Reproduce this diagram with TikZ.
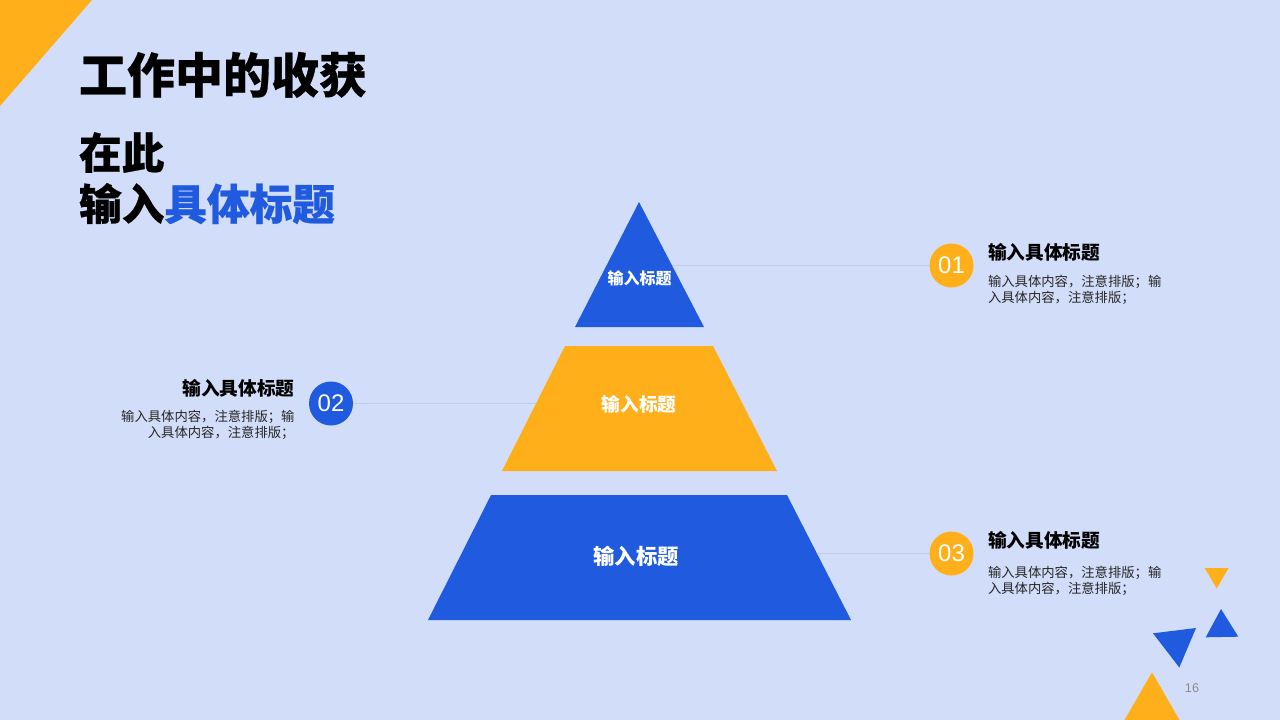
\documentclass[tikz,border=0pt]{standalone}
\usepackage{fontspec}
\newfontfamily\cjk{Noto Sans CJK SC}
\newfontfamily\cjkheavy[BoldFeatures={FakeBold=0.6}]{Noto Sans CJK SC}
\newfontfamily\latinf{Liberation Sans}
\definecolor{bgc}{HTML}{D2DEF9}
\definecolor{bluec}{HTML}{1F5ADF}
\definecolor{orangec}{HTML}{FFAF19}
\definecolor{linec}{HTML}{BECBE9}
\definecolor{bodyc}{HTML}{262626}
\definecolor{pagec}{HTML}{8C8C8C}
\tikzset{
  x=0.75pt,y=-0.75pt,
  every node/.style={inner sep=0pt,outer sep=0pt},
  bluefill/.style={fill=bluec,draw=none},
  orangefill/.style={fill=orangec,draw=none},
  link/.style={draw=linec,line width=0.75pt},
  badge/.style={circle,minimum size=33pt,text=white,font=\latinf\fontsize{18}{18}\selectfont},
  headt/.style={font=\cjk\bfseries\fontsize{14}{16}\selectfont,text=black},
  bodyt/.style={font=\cjk\fontsize{10}{12}\selectfont,text=bodyc},
  lab/.style={text=white,anchor=base}
}
\newcommand{\badgetext}[1]{\raisebox{-0.75pt}{#1}}
\begin{document}
\begin{tikzpicture}
\useasboundingbox (0,0) rectangle (1280,720);
\fill[bgc] (0,0) rectangle (1280,720);
% corner and decorative triangles
\fill[orangefill] (0,0) -- (92,0) -- (0,106) -- cycle;
\fill[orangefill] (1204.7,568) -- (1228.5,568) -- (1216.7,588.5) -- cycle;
\fill[bluefill] (1221,609) -- (1205.7,637.3) -- (1238.3,636.7) -- cycle;
\fill[bluefill] (1153,633.3) -- (1196,628) -- (1179.3,667.5) -- cycle;
\fill[orangefill] (1152,672.3) -- (1124.5,720) -- (1179.5,720) -- cycle;
% connector free ends
\coordinate (topend) at (670,265.5);
\coordinate (midend) at (537,403.5);
\coordinate (lowend) at (818,553.5);
% badges
\node[badge,fill=orangec] (b1) at (951.5,265.5) {\badgetext{01}};
\node[badge,fill=bluec] (b2) at (331,403.5) {\badgetext{02}};
\node[badge,fill=orangec] (b3) at (951.5,553.5) {\badgetext{03}};
\draw[link] (topend) -- (b1);
\draw[link] (b2) -- (midend);
\draw[link] (lowend) -- (b3);
% pyramid
\fill[bluefill] (639,202) -- (704,327) -- (575,327) -- cycle;
\fill[orangefill] (565,346) -- (713,346) -- (777,471) -- (502,471) -- cycle;
\fill[bluefill] (491,495) -- (787,495) -- (851,620) -- (428,620) -- cycle;
\node[lab,font=\cjk\bfseries\fontsize{12}{14}\selectfont] (p1) at (639.5,284) {输入标题};
\node[lab,font=\cjk\bfseries\fontsize{14}{16}\selectfont] (p2) at (639,411) {输入标题};
\node[lab,font=\cjk\bfseries\fontsize{16}{18}\selectfont] (p3) at (636,564) {输入标题};
% titles
\node[anchor=base west,font=\cjkheavy\bfseries\fontsize{36}{40}\selectfont,text=black] (title) at (79,93) {工作中的收获};
\node[anchor=base west,align=left,font=\cjkheavy\bfseries\fontsize{32}{38.4}\selectfont,text=black] (sub) at (79,220) {在此\\输入\textcolor{bluec}{具体标题}};
% side texts
\node[headt,anchor=base west] (h1) at (988,259) {输入具体标题};
\node[bodyt,anchor=base west,align=left] (t1) at (988,302) {输入具体内容，注意排版；输\\入具体内容，注意排版；};
\node[headt,anchor=base east] (h2) at (294.5,395) {输入具体标题};
\node[bodyt,anchor=base east,align=right] (t2) at (294.5,437) {输入具体内容，注意排版；输\\入具体内容，注意排版；};
\node[headt,anchor=base west] (h3) at (988,547) {输入具体标题};
\node[bodyt,anchor=base west,align=left] (t3) at (988,593) {输入具体内容，注意排版；输\\入具体内容，注意排版；};
\node[anchor=base,font=\latinf\fontsize{9.5}{11}\selectfont,text=pagec] (pg) at (1192,692) {16};
\end{tikzpicture}
\end{document}
